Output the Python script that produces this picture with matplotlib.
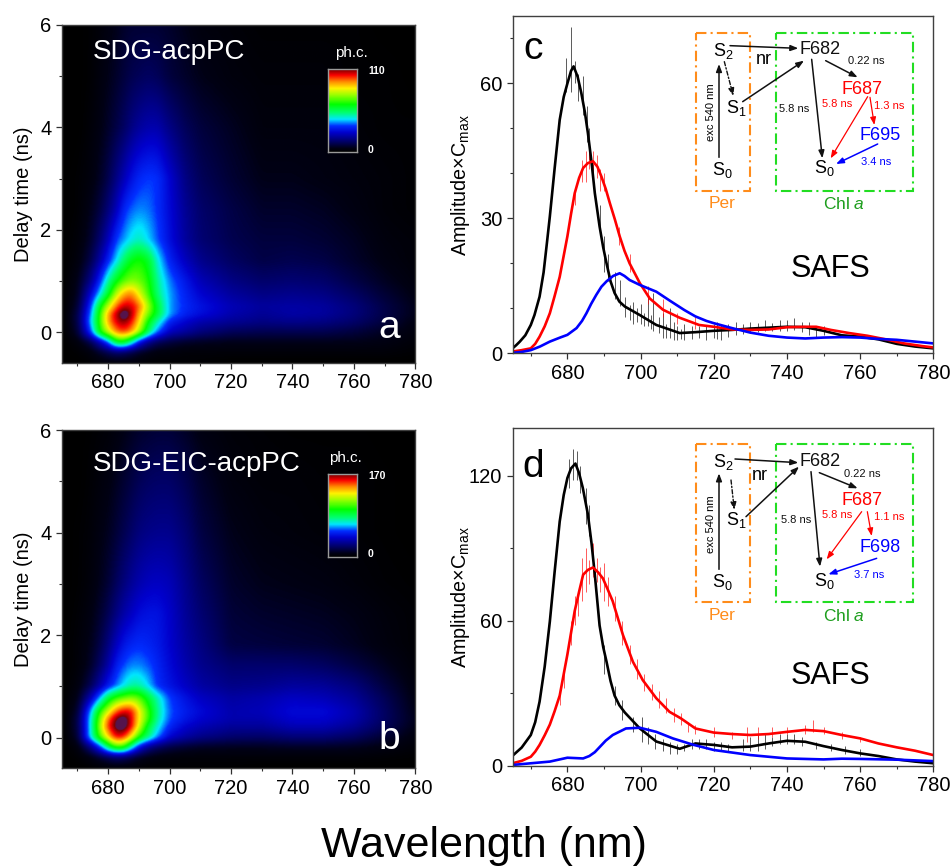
"""
Time resolved fluorescence maps and SAFS spectra for the two acpPC samples.
"""

import numpy as np
import matplotlib
matplotlib.use('Agg')
import matplotlib.pyplot as plt
from matplotlib.colors import LinearSegmentedColormap
from matplotlib.patches import Rectangle
from matplotlib.ticker import MultipleLocator

plt.rcParams['font.family'] = ['Liberation Sans', 'DejaVu Sans']
plt.rcParams['mathtext.fontset'] = 'custom'
plt.rcParams['mathtext.rm'] = 'Liberation Sans'
plt.rcParams['mathtext.it'] = 'Liberation Sans:italic'
plt.rcParams['mathtext.bf'] = 'Liberation Sans:bold'
plt.rcParams['mathtext.default'] = 'regular'

W, H = 952, 866

# Maps
map_wl = [665, 670, 674, 677, 680, 682.5, 685, 687.5, 690, 693, 696, 700, 705, 710, 720, 730, 740, 750, 760, 770, 780]
map_delay = [-0.6, -0.4, -0.2, 0, 0.2, 0.35, 0.5, 0.75, 1, 1.4, 1.8, 2.4, 3, 4, 5, 6]

counts_a = [
    [0, 0, 1, 2, 3, 3, 3, 3, 2, 1, 1, 1, 1, 1, 0, 0, 0, 0, 0, 0, 0],
    [0, 1, 3, 7, 11, 14, 13, 10, 7, 5, 3, 3, 2, 2, 2, 2, 2, 2, 2, 2, 1],
    [0, 3, 10, 22, 38, 60, 62, 48, 30, 18, 12, 9, 7, 6, 5, 5, 5, 5, 5, 4, 2],
    [0, 8, 33, 63, 80, 94, 98, 92, 76, 54, 37, 24, 20, 16, 12, 11, 11, 11, 9, 6, 3],
    [0, 10, 40, 66, 92, 104, 110, 102, 86, 62, 48, 32, 26, 22, 19, 17, 18, 17, 14, 9, 4],
    [0, 10, 37, 65, 92, 106, 118, 108, 90, 72, 58, 40, 32, 28, 22, 19, 21, 20, 16, 10, 5],
    [0, 8, 33, 60, 80, 96, 106, 104, 96, 76, 58, 40, 33, 29, 23, 20, 21, 20, 16, 10, 5],
    [0, 6, 25, 42, 60, 78, 90, 94, 82, 68, 52, 40, 32, 26, 20, 17, 18, 17, 13, 8, 4],
    [0, 5, 17, 32, 50, 62, 70, 74, 72, 65, 50, 38, 30, 23, 17, 14, 15, 14, 10, 6, 3],
    [0, 3, 10, 20, 33, 43, 54, 62, 65, 60, 45, 32, 24, 18, 13, 10, 11, 10, 7, 4, 2],
    [0, 2, 7, 14, 24, 35, 40, 45, 48, 43, 36, 28, 20, 15, 11, 9, 9, 8, 6, 3, 2],
    [0, 1, 5, 9, 16, 23, 33, 37, 39, 38, 34, 27, 19, 14, 10, 7, 7, 6, 4, 2, 1],
    [0, 1, 3, 6, 11, 17, 23, 29, 33, 35, 34, 26, 17, 12, 8, 5, 5, 4, 3, 2, 1],
    [0, 0, 2, 4, 7, 10, 13, 17, 20, 22, 22, 17, 12, 9, 6, 3, 3, 3, 2, 1, 1],
    [0, 0, 1, 3, 5, 7, 9, 11, 12, 13, 12, 9, 7, 5, 3, 2, 2, 2, 1, 1, 0],
    [0, 0, 1, 2, 4, 5, 7, 8, 8, 8, 8, 7, 5, 3, 2, 1, 1, 1, 1, 0, 0],
]

counts_b = [
    [0, 0, 1, 2, 3, 4, 3, 3, 2, 1, 1, 1, 1, 1, 1, 0, 0, 0, 0, 0, 0],
    [0, 2, 6, 12, 18, 22, 20, 15, 10, 7, 5, 4, 3, 3, 3, 3, 3, 3, 3, 2, 1],
    [0, 5, 25, 50, 85, 105, 102, 72, 45, 28, 20, 15, 12, 10, 9, 9, 10, 10, 9, 6, 3],
    [0, 12, 66, 105, 135, 160, 155, 130, 100, 80, 60, 40, 32, 27, 22, 21, 24, 24, 20, 12, 5],
    [0, 15, 66, 115, 155, 176, 180, 158, 125, 90, 70, 50, 40, 35, 30, 30, 35, 35, 29, 18, 7],
    [0, 15, 66, 110, 148, 172, 180, 160, 130, 104, 76, 55, 46, 40, 34, 34, 40, 40, 33, 20, 8],
    [0, 12, 60, 100, 125, 148, 160, 158, 130, 104, 78, 56, 48, 42, 34, 36, 42, 42, 34, 20, 7],
    [0, 8, 35, 62, 92, 105, 112, 116, 110, 92, 74, 54, 45, 38, 32, 34, 38, 36, 30, 18, 6],
    [0, 5, 17, 32, 48, 58, 68, 76, 76, 66, 52, 45, 38, 32, 27, 28, 31, 30, 25, 14, 5],
    [0, 3, 10, 20, 33, 48, 55, 60, 60, 56, 50, 42, 34, 28, 22, 22, 22, 20, 15, 9, 3],
    [0, 3, 8, 15, 26, 37, 46, 50, 52, 50, 47, 40, 32, 26, 15, 14, 13, 12, 9, 5, 2],
    [0, 2, 6, 11, 18, 26, 33, 38, 43, 45, 45, 39, 30, 23, 13, 11, 10, 9, 7, 4, 2],
    [0, 1, 4, 8, 13, 19, 25, 30, 34, 37, 38, 36, 28, 20, 11, 8, 7, 6, 4, 2, 1],
    [0, 1, 3, 6, 9, 13, 17, 21, 25, 27, 28, 28, 23, 15, 8, 5, 4, 3, 2, 1, 0],
    [0, 0, 2, 4, 6, 9, 12, 15, 18, 20, 21, 21, 17, 11, 5, 3, 3, 2, 2, 1, 0],
    [0, 0, 1, 2, 3, 5, 7, 9, 11, 12, 13, 13, 10, 6, 3, 2, 1, 1, 1, 0, 0],
]

# Panel c spectra
c_black_wl = [665, 666, 667, 668.5, 670, 671, 672.4, 673.5, 674.4, 675.2, 676.5, 677.9, 679, 680, 681, 681.7, 682.8, 683.8, 684.8, 685.6, 686.6, 687.5, 688.8, 689.8, 690.7, 691.8, 692.9, 694.2, 695.7, 699.8, 704.3, 710.7, 715, 720, 725, 730, 735, 740, 745, 750, 755, 760, 765, 770, 775, 780]
c_black = [1.1, 1.8, 2.6, 4, 6.3, 8.5, 12.6, 18, 24.5, 30.4, 41, 51.9, 57, 60, 62.8, 63.8, 61.5, 57.9, 53.5, 49, 42.5, 35.6, 28.2, 23.5, 20, 16, 13.4, 11.5, 10.4, 8.5, 6.3, 4.5, 4.7, 5, 5.2, 5.5, 5.7, 5.9, 5.8, 5, 4, 3.7, 3.1, 2.1, 1.5, 1.1]
c_red_wl = [665, 667.5, 670, 671.2, 672.4, 673.8, 675.2, 676.5, 677.9, 680, 681, 682, 683.2, 684.3, 685.6, 687, 688.2, 689.3, 690.5, 691.6, 693, 694.3, 695.6, 697, 699.8, 702.5, 706.1, 710.7, 716, 720, 725, 730, 735, 740, 745, 748, 752, 757, 762, 767, 772, 777, 780]
c_red = [0.4, 0.7, 1.1, 2.1, 3.7, 6, 8.9, 12.7, 17, 26, 31, 35.6, 39, 41.2, 42.3, 42.7, 41.5, 39.3, 36.5, 33.4, 29.7, 26, 22.8, 20, 15.6, 12.2, 9.7, 7.9, 6.3, 5.9, 5.3, 5.2, 5.3, 5.8, 5.9, 5.9, 5.2, 4.5, 3.9, 3.1, 2.2, 1.6, 1.3]
c_blue_wl = [665, 667.5, 670, 672.5, 675.2, 678, 680, 682.5, 684, 685.2, 686.5, 687.9, 689.3, 690.7, 692.5, 694.3, 695.6, 697, 699.8, 704.3, 708, 712, 715, 718, 720, 725, 730, 735, 740, 745, 750, 755, 760, 765, 770, 775, 780]
c_blue = [0.1, 0.3, 0.7, 1.5, 2.6, 3.5, 4.1, 5.6, 7.2, 8.9, 11, 13, 14.8, 16, 17.2, 17.8, 17.2, 16.3, 15.2, 13.7, 11.7, 9.6, 8.2, 7.2, 6.7, 5.6, 4.6, 3.9, 3.5, 3.3, 3.5, 3.6, 3.5, 3.2, 3, 2.6, 2.2]

# raw counting noise around the fits, read as lo/hi excursions
c_black_noise_wl = [679.5, 680.9, 682, 682.9, 684.3, 685.4, 686, 687, 689, 690, 691, 693, 694.3, 695.7, 697, 698, 699, 700, 701, 702, 702.8, 703.5, 705, 706, 707, 708, 709, 710, 711, 712, 714, 716, 718, 720, 721, 722, 724, 726, 728, 730, 732, 734, 736, 738, 740, 742, 744, 746, 748, 750]
c_black_noise_lo = [58, 58, 60, 56, 53, 47, 43, 38, 28, 18, 16, 12, 10.5, 8, 7.5, 6.5, 7, 6.5, 6, 6, 5.5, 5, 4.5, 3.5, 3.5, 3.5, 3, 3, 3.2, 2.9, 3.2, 3.5, 3, 3.4, 3.2, 2.9, 3.7, 4, 4.2, 4.5, 4.7, 4.9, 5, 4.9, 5, 5.1, 4.7, 4, 3.7, 4]
c_black_noise_hi = [65.7, 72.6, 65, 62, 61.6, 55, 50, 42, 33, 26, 22, 18, 16.3, 12.6, 10.8, 11.5, 10, 11, 9, 12.8, 8.5, 13.5, 8, 9, 6.5, 10, 7, 6, 5.5, 6.5, 6, 6, 6.2, 6.5, 7, 6.3, 6.5, 7, 6.5, 7, 6.8, 7.5, 6.8, 7.5, 7.3, 7.9, 7, 7, 6, 6]
c_red_noise_wl = [682, 684, 685, 686, 687, 688, 689, 690, 694, 697, 702, 706, 710, 715]
c_red_noise_lo = [33, 38, 38, 41, 40, 39, 36, 36, 24, 18, 11, 8, 6.5, 5.5]
c_red_noise_hi = [37, 43, 45, 46, 45, 44, 41, 40, 28, 22, 15, 12, 9, 8]

# Panel d spectra
d_black_wl = [665, 667.5, 670, 671.2, 672.4, 673.8, 675.2, 676.5, 677.9, 679, 680, 681, 682.2, 683.2, 684.2, 685.6, 686.6, 687.5, 688.8, 689.8, 690.7, 691.8, 692.9, 694.2, 695.7, 699.8, 704.3, 710.7, 715, 720, 725, 730, 735, 740, 745, 750, 755, 760, 765, 770, 775, 780]
d_black = [4.1, 7.5, 12.7, 18, 26.5, 41, 59.6, 80, 101, 112, 119, 123, 125, 121, 115, 104, 92, 79, 58, 49, 43, 35, 29, 25, 22, 15.4, 10, 7, 9.2, 8.6, 7.6, 7.9, 9.2, 10.3, 9.9, 8.1, 6.5, 5.1, 4, 2.6, 1.7, 1]
d_red_wl = [665, 667.5, 670, 671.2, 672.4, 673.8, 675.2, 676.5, 677.9, 680, 681, 682, 683.2, 684.3, 685.6, 687, 688.4, 689.7, 691, 692.4, 693.8, 695.2, 697.9, 700.6, 704.3, 707.9, 711, 715, 720, 725, 730, 735, 740, 745, 750, 755, 760, 765, 770, 775, 780]
d_red = [1, 2, 3.7, 5.8, 8.6, 12.6, 17, 22.5, 29, 46, 55, 64, 72, 79, 81, 82, 80, 77.5, 73, 68, 61, 54, 43, 35.4, 27.9, 22.3, 19.6, 15.4, 13.7, 13.1, 12.7, 13.1, 14, 14.8, 14.3, 12.7, 11.3, 9.2, 7.6, 6.2, 4.4]
d_blue_wl = [665, 670, 675.2, 680, 684.3, 686, 687.5, 689, 690.5, 692.4, 696, 699.8, 704.3, 708.8, 714.3, 720, 730, 740, 750, 755, 760, 770, 780]
d_blue = [0.3, 1, 1.7, 3.3, 3, 4, 5.6, 8, 10.4, 12.7, 15.4, 15.7, 14, 11.3, 8.7, 6.5, 4.4, 3, 2.6, 2.9, 2.8, 2.5, 1.9]

d_black_noise_wl = [680.5, 681.5, 682.5, 683.5, 685, 686, 690, 693, 695, 698, 700.5, 702, 704, 706, 708, 710, 712, 714, 716, 718, 720, 722, 724, 728, 730, 732, 734, 736, 738, 740, 742, 744, 748, 752, 756, 760]
d_black_noise_lo = [115, 118, 118, 113, 100, 95, 38, 25, 19, 14, 10, 9, 7, 6, 5, 5, 6, 7, 7, 7, 6, 6, 6, 6, 6, 6, 7, 8, 9, 9, 9, 8, 7, 6, 5, 4]
d_black_noise_hi = [127, 131, 130, 124, 115, 108, 50, 33, 27, 20, 20, 16, 13, 11, 10, 9, 9, 11, 11, 11, 10, 10, 9, 11, 12, 13, 13, 12, 13, 13, 13, 12, 10, 9, 8, 7]
d_red_noise_wl = [678, 679, 681, 682, 683, 684, 685, 686, 687, 688, 689, 690, 691, 693, 695, 697, 699, 701, 703, 705, 707, 709, 711, 713, 715, 720, 725, 729, 732, 736, 740, 745, 747, 750, 755, 760]
d_red_noise_lo = [25, 32, 50, 58, 62, 68, 72, 75, 78, 76, 72, 68, 66, 60, 50, 42, 36, 31, 27, 24, 22, 18, 17, 14, 13, 12, 11, 10, 11, 12, 13, 13, 14, 13, 11, 10]
d_red_noise_hi = [30, 40, 60, 70, 72, 86, 90, 85, 92, 86, 82, 84, 78, 70, 60, 50, 44, 38, 34, 31, 28, 24, 22, 18, 17, 16, 14, 16, 16, 16, 16, 17, 19, 16, 14, 12]

# level schemes, px from the crops: (x0, y0) crop origin, 3x scale
s_labels = ['S$_2$', 'S$_1$', 'S$_0$', 'S$_0$']
F_labels_c = ['F682', 'F687', 'F695']
F_labels_d = ['F682', 'F687', 'F698']
times_c = ['0.22 ns', '5.8 ns', '5.8 ns', '1.3 ns', '3.4 ns']
times_d = ['0.22 ns', '5.8 ns', '5.8 ns', '1.1 ns', '3.7 ns']

RAINBOW = LinearSegmentedColormap.from_list('rainbow_pl', [
    (0.00, (0, 0, 0)),
    (0.04, (0, 0, 0.08)),
    (0.11, (0, 0, 0.36)),
    (0.23, (0, 0, 0.8)),
    (0.31, (0, 0.18, 1)),
    (0.39, (0, 0.9, 1)),
    (0.47, (0, 1, 0.45)),
    (0.57, (0, 1, 0)),
    (0.68, (0.6, 1, 0)),
    (0.76, (1, 0.95, 0)),
    (0.84, (1, 0.55, 0)),
    (0.92, (0.98, 0, 0)),
    (0.985, (0.5, 0, 0)),
    (1.00, (0.33, 0.08, 0.3)),
])


def px_axes(fig, left, top, right, bottom):
    return fig.add_axes([left / W, 1 - bottom / H, (right - left) / W, (bottom - top) / H])


def style_axis(ax):
    for side in ['left', 'bottom', 'top', 'right']:
        ax.spines[side].set_color('#404040')
        ax.spines[side].set_linewidth(1.0)
    ax.set_xlim(665, 780)
    ax.xaxis.set_major_locator(MultipleLocator(20))
    ax.xaxis.set_minor_locator(MultipleLocator(10))
    ax.tick_params(which='major', length=4.5, width=0.9, labelsize=14.5, pad=3, color='#303030')
    ax.tick_params(which='minor', length=2.5, width=0.8, color='#303030')


def fine_image(counts):
    """Resample the coarse map onto a regular raster, softening the grid creases."""
    fine_x = np.linspace(map_wl[0], map_wl[-1], 346)
    fine_y = np.linspace(map_delay[0], map_delay[-1], 331)
    rows = np.array([np.interp(fine_x, map_wl, row) for row in np.array(counts, dtype=float)])
    img = np.array([np.interp(fine_y, map_delay, col) for col in rows.T]).T
    pad = 16
    kernel_x = np.hanning(17)
    kernel_y = np.hanning(13)
    img = np.pad(img, pad, mode='edge')
    img = np.apply_along_axis(np.convolve, 0, img, kernel_y / kernel_y.sum(), mode='same')
    img = np.apply_along_axis(np.convolve, 1, img, kernel_x / kernel_x.sum(), mode='same')
    return img[pad:-pad, pad:-pad]


def draw_map(fig, box, counts, vmax):
    ax = px_axes(fig, *box)
    ax.imshow(fine_image(counts), cmap=RAINBOW, vmin=0, vmax=vmax * 1.01, origin='lower',
              extent=[map_wl[0], map_wl[-1], map_delay[0], map_delay[-1]], aspect='auto',
              interpolation='bilinear')
    style_axis(ax)
    ax.set_ylim(-0.6, 6)
    ax.yaxis.set_major_locator(MultipleLocator(2))
    ax.yaxis.set_minor_locator(MultipleLocator(1))
    ax.set_ylabel('Delay time (ns)', fontsize=14.5, labelpad=5)
    return ax


def draw_colorbar(fig, box):
    cax = px_axes(fig, *box)
    cax.imshow(np.linspace(0.99, 0, 256)[:, None], cmap=RAINBOW, vmin=0, vmax=1, aspect='auto')
    cax.set_xticks([])
    cax.set_yticks([])
    for spine in cax.spines.values():
        spine.set_color('#9a9a9a')
        spine.set_linewidth(1.0)


def draw_spectra(fig, box, series, noise, ymax, major, minor):
    ax = px_axes(fig, *box)
    for wl, lo, hi, color in noise:
        ax.vlines(wl, lo, hi, color=color, linewidth=0.6, alpha=0.75)
    for wl, values, color in series:
        ax.plot(wl, values, color=color, linewidth=1.9)
    style_axis(ax)
    ax.set_ylim(0, ymax)
    ax.yaxis.set_major_locator(MultipleLocator(major))
    ax.yaxis.set_minor_locator(MultipleLocator(minor))
    ax.set_ylabel('Amplitude×C$_{max}$', fontsize=14.2)
    ax.yaxis.set_label_coords((472 - box[0]) / (box[2] - box[0]), 0.5)
    return ax


def draw_scheme(ov, x0, y0, box_top, box_bottom, label_y, F_labels, times, places, arrows):
    def pt(x, y):
        return x0 + x / 3, y0 + y / 3

    for (left, right, color) in [(47, 210, '#ff8c1a'), (287, 700, '#22dd22')]:
        xa, ya = pt(left, box_top)
        xb, yb = pt(right, box_bottom)
        ov.add_patch(Rectangle((xa, ya), xb - xa, yb - ya, fill=False, edgecolor=color,
                               linewidth=1.5, linestyle=(0, (5, 2, 1, 2))))

    x, y = pt(125, label_y)
    ov.text(x, y, 'Per', color='#ff8c1a', fontsize=12.5, ha='center', va='center')
    x, y = pt(493, label_y)
    ov.text(x, y, 'Chl $\\mathit{a}$', color='#1e9e1e', fontsize=12.5, ha='center', va='center')

    for label, place in zip(s_labels, places['s']):
        x, y = pt(*place)
        ov.text(x, y, label, fontsize=13, ha='center', va='center')
    for label, place, color in zip(F_labels, places['f'], ['#111111', '#ff0000', '#0000ff']):
        x, y = pt(*place)
        ov.text(x, y, label, color=color, fontsize=13, ha='center', va='center')
    x, y = pt(*places['nr'])
    ov.text(x, y, 'nr', fontsize=13, ha='center', va='center')
    for label, place, color in zip(times, places['t'], ['#111111', '#111111', '#ff0000', '#ff0000', '#0000ff']):
        x, y = pt(*place)
        ov.text(x, y, label, color=color, fontsize=8, ha='center', va='center')
    x, y = pt(*places['exc'])
    ov.text(x, y, 'exc 540 nm', fontsize=8, rotation=90, ha='center', va='center')

    for start, end, color, lw, style in arrows:
        ov.annotate('', xy=pt(*end), xytext=pt(*start),
                    arrowprops=dict(arrowstyle='-|>,head_length=0.45,head_width=0.17', color=color,
                                    linewidth=lw, linestyle=style, shrinkA=0, shrinkB=0))


def main():
    fig = plt.figure(figsize=(W / 100, H / 100), dpi=100)

    draw_map(fig, (62, 25, 415.3, 362.7), counts_a, 110)
    draw_map(fig, (62, 430, 415.3, 768.3), counts_b, 170)
    draw_colorbar(fig, (327.7, 69.3, 356.7, 152.3))
    draw_colorbar(fig, (327.7, 474, 356.7, 557))

    draw_spectra(fig, (512.5, 16, 933.3, 353.3),
                 [(c_black_wl, c_black, 'black'), (c_red_wl, c_red, '#ff0000'), (c_blue_wl, c_blue, '#0000ff')],
                 [(c_black_noise_wl, c_black_noise_lo, c_black_noise_hi, 'black'),
                  (c_red_noise_wl, c_red_noise_lo, c_red_noise_hi, '#ff0000')],
                 75, 30, 10)
    draw_spectra(fig, (512.5, 428, 933.3, 765.7),
                 [(d_black_wl, d_black, 'black'), (d_red_wl, d_red, '#ff0000'), (d_blue_wl, d_blue, '#0000ff')],
                 [(d_black_noise_wl, d_black_noise_lo, d_black_noise_hi, 'black'),
                  (d_red_noise_wl, d_red_noise_lo, d_red_noise_hi, '#ff0000')],
                 139.7, 60, 30)

    # overlay in pixel coordinates for labels and the level schemes
    ov = fig.add_axes([0, 0, 1, 1], zorder=10)
    ov.set_xlim(0, W)
    ov.set_ylim(H, 0)
    ov.axis('off')

    ov.text(93, 52, 'SDG-acpPC', color='white', fontsize=20, ha='left', va='center')
    ov.text(93, 464, 'SDG-EIC-acpPC', color='white', fontsize=20, ha='left', va='center')
    ov.text(389, 328, 'a', color='white', fontsize=28, ha='center', va='center')
    ov.text(389, 739, 'b', color='white', fontsize=28, ha='center', va='center')
    ov.text(533, 49, 'c', fontsize=28, ha='center', va='center')
    ov.text(533, 467, 'd', fontsize=28, ha='center', va='center')
    ov.text(830, 269, 'SAFS', fontsize=22, ha='center', va='center')
    ov.text(830, 676, 'SAFS', fontsize=22, ha='center', va='center')
    ov.text(484, 857, 'Wavelength (nm)', fontsize=31, ha='center', va='baseline')

    for y_lab, y_top, y_bot, top_lab, xtop in [(53, 71, 150, '110', 376.7), (458, 476, 554.3, '170', 376.7)]:
        x_lab = 351 if y_lab == 53 else 345.7
        ov.text(x_lab, y_lab, 'ph.c.', color='white', fontsize=11, ha='center', va='center')
        ov.text(xtop, y_top, top_lab, color='white', fontsize=7.5, fontweight='bold', ha='center', va='center')
        ov.text(370, y_bot, '0', color='white', fontsize=7.5, fontweight='bold', ha='center', va='center')

    places_c = {
        's': [(130, 92), (170, 265), (128, 450), (432, 445)],
        'f': [(420, 90), (547, 207), (600, 347)],
        'nr': (250, 118),
        't': [(560, 122), (343, 266), (470, 252), (627, 257), (587, 425)],
        'exc': (92, 277),
    }
    arrows_c = [
        ((117, 412), (117, 132), '#111111', 1.1, '-'),
        ((133, 125), (160, 228), '#111111', 1.0, (0, (3, 1.5, 1, 1.5))),
        ((150, 77), (355, 85), '#111111', 1.1, '-'),
        ((188, 245), (372, 122), '#111111', 1.1, '-'),
        ((395, 118), (427, 415), '#111111', 1.1, '-'),
        ((437, 122), (533, 172), '#111111', 1.1, '-'),
        ((563, 230), (452, 415), '#ff0000', 0.9, '-'),
        ((570, 232), (583, 315), '#ff0000', 0.9, '-'),
        ((593, 372), (468, 432), '#0000ff', 1.1, '-'),
    ]
    draw_scheme(ov, 680, 20, 38, 512, 552, F_labels_c, times_c, places_c, arrows_c)

    places_d = {
        's': [(130, 97), (170, 270), (128, 455), (432, 453)],
        'f': [(420, 95), (547, 212), (600, 352)],
        'nr': (240, 135),
        't': [(548, 132), (347, 270), (470, 256), (627, 260), (567, 435)],
        'exc': (92, 282),
    }
    arrows_d = [
        ((117, 418), (117, 130), '#111111', 1.1, '-'),
        ((153, 150), (163, 240), '#111111', 1.0, (0, (3, 1.5, 1, 1.5))),
        ((165, 87), (355, 98), '#111111', 1.1, '-'),
        ((198, 260), (357, 110), '#111111', 1.1, '-'),
        ((393, 125), (420, 410), '#111111', 1.1, '-'),
        ((418, 128), (533, 175), '#111111', 1.1, '-'),
        ((545, 245), (440, 388), '#ff0000', 0.9, '-'),
        ((562, 245), (575, 318), '#ff0000', 0.9, '-'),
        ((590, 385), (445, 433), '#0000ff', 1.1, '-'),
    ]
    draw_scheme(ov, 680, 430, 43, 517, 557, F_labels_d, times_d, places_d, arrows_d)

    fig.savefig('out.png', dpi=100)


if __name__ == '__main__':
    main()
